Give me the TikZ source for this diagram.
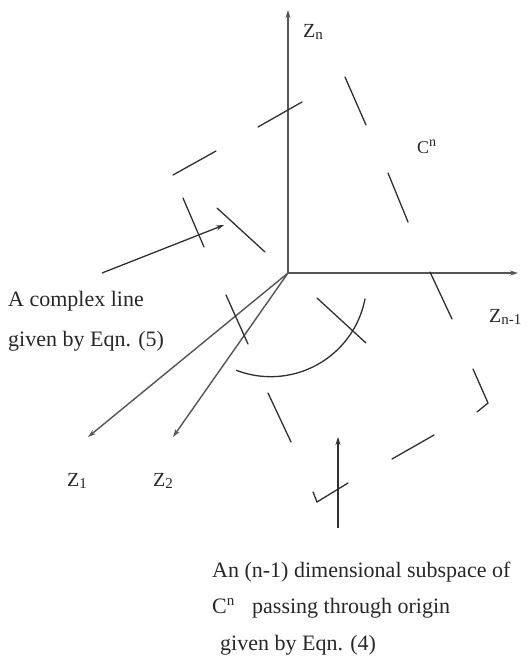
\documentclass[tikz,border=0pt]{standalone}
\usepackage{fontspec}
\setmainfont{Liberation Serif}
\usetikzlibrary{arrows.meta}
\definecolor{ink}{HTML}{303030}
\definecolor{axisgray}{HTML}{555555}
\newcommand{\zsub}[1]{Z\raisebox{-2.5pt}{\fontsize{15}{15}\selectfont #1}}

\begin{document}
\begin{tikzpicture}[x=1pt,y=-1pt,>={Stealth[length=8pt,width=5pt]},
    axis/.style={->,draw=axisgray,line width=1.4pt},
    seg/.style={draw=ink,line width=1.3pt,line cap=round},
    txt/.style={anchor=base west,inner sep=0pt,text=ink!80!black,font=\fontsize{22}{22}\selectfont},
    zlab/.style={anchor=base west,inner sep=0pt,text=ink!80!black,font=\fontsize{20}{20}\selectfont}]
  \useasboundingbox (0,0) rectangle (530,664);
  % axes
  \coordinate (O) at (288,273);
  \coordinate (zn) at (288,10);
  \coordinate (znm) at (518,273);
  \coordinate (z1) at (88,437);
  \coordinate (z2) at (173,437);
  \foreach \e in {zn,znm,z1,z2}{\draw[axis] (O) -- (\e);}
  \node[zlab] (lzn) at (303,37) {\zsub{n}};
  \node[zlab] (lznm) at (489,322) {\zsub{n-1}};
  \node[zlab] (lz1) at (67,486) {\zsub{1}};
  \node[zlab] (lz2) at (153,486) {\zsub{2}};
  \node[zlab,font=\fontsize{18}{18}\selectfont] (cn) at (417,153) {C\raisebox{7pt}{\fontsize{14}{14}\selectfont n}};
  % the dashed boundary of the subspace
  \foreach \xa/\ya/\xb/\yb in {258/127/302/102,173/175/216/151,183/198/204/247,217/208/265/252,
      345/77/366/125,388/173/408/222,430/272/452/319,392/459/434/435,268/393/291/442,
      226/295/248/344,317/298/366/343}{\draw[seg] (\xa,\ya) -- (\xb,\yb);}
  \draw[seg] (473,369) -- (488,403) -- (477,412);
  \draw[seg] (313,492) -- (317,502) -- (348,483);
  \draw[seg] (365,299) arc[start angle=11,end angle=111,radius=96];
  % pointers
  \coordinate (lineA) at (102,273);
  \coordinate (lineB) at (224,225);
  \coordinate (subA) at (338,528);
  \coordinate (subB) at (338,437);
  \draw[->,draw=ink,line width=1.3pt] (lineA) -- (lineB);
  \draw[->,draw=ink,line width=1.3pt] (subA) -- (subB);
  \node[txt] (cl1) at (8,306) {A complex line};
  \node[txt] (cl2) at (8,346) {given by Eqn. (5)};
  \node[txt] (ss1) at (212,577) {An (n-1) dimensional subspace of};
  \node[txt] (ss2a) at (212,613) {C\raisebox{8pt}{\fontsize{15}{15}\selectfont n}};
  \node[txt] (ss2b) at (252,613) {passing through origin};
  \node[txt] (ss3) at (220,650) {given by Eqn. (4)};
\end{tikzpicture}
\end{document}
